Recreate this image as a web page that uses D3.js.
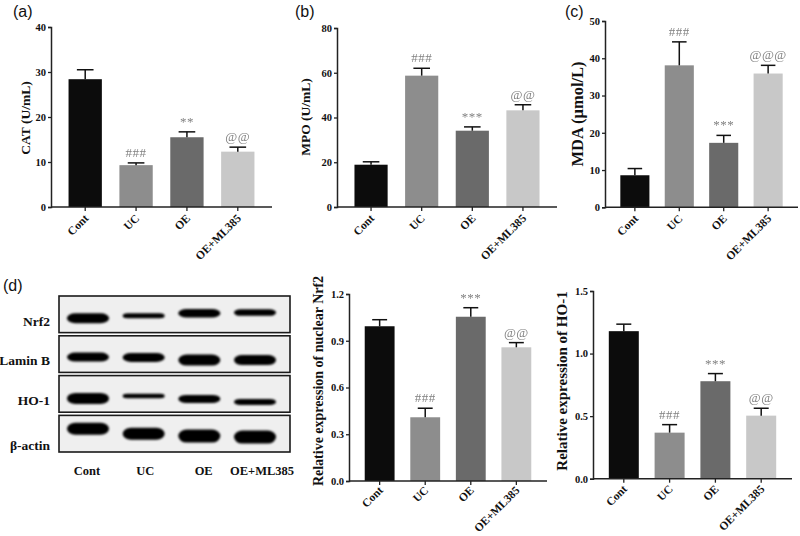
<!DOCTYPE html>
<html>
<head>
<meta charset="utf-8">
<script src="https://cdn.jsdelivr.net/npm/d3@7"></script>
<style>
  html, body { margin: 0; padding: 0; background: #ffffff; }
  svg { display: block; }
  text { -webkit-font-smoothing: antialiased; }
</style>
</head>
<body>
<svg id="chart" width="800" height="536"></svg>
<script>
// ---------------- DATA ----------------
const groups = ["Cont", "UC", "OE", "OE+ML385"];

const catMean = [28.4, 9.3, 15.5, 12.3];
const catErr  = [2.1, 0.5, 1.2, 1.0];
const catSig  = ["", "###", "**", "@@"];
const catTicks = [0, 10, 20, 30, 40];

const mpoMean = [18.9, 58.7, 34.1, 43.2];
const mpoErr  = [1.3, 3.3, 1.7, 2.5];
const mpoSig  = ["", "###", "***", "@@"];
const mpoTicks = [0, 20, 40, 60, 80];

const mdaMean = [8.6, 38.1, 17.3, 35.9];
const mdaErr  = [1.8, 6.3, 2.0, 2.2];
const mdaSig  = ["", "###", "***", "@@@"];
const mdaTicks = [0, 10, 20, 30, 40, 50];

const nrf2Mean = [0.993, 0.409, 1.054, 0.858];
const nrf2Err  = [0.042, 0.058, 0.058, 0.030];
const nrf2Sig  = ["", "###", "***", "@@"];
const nrf2Ticks = [0, 0.3, 0.6, 0.9, 1.2];

const ho1Mean = [1.179, 0.368, 0.779, 0.504];
const ho1Err  = [0.056, 0.064, 0.061, 0.059];
const ho1Sig  = ["", "###", "***", "@@"];
const ho1Ticks = [0, 0.5, 1.0, 1.5];

// Western blot (relative band density / thickness per lane)
const proteins = ["Nrf2", "Lamin B", "HO-1", "β-actin"];
const bandDensity = [
  [10, 5, 8.5, 6.5],
  [9, 9, 11, 10],
  [11, 4.5, 8, 6],
  [12, 12, 13, 13]
];
const bandShift = [
  [4, 1.5, -1, -1.7],
  [3, 3.3, 6, 6],
  [4.5, 2, 5, 8],
  [-5, 0, 2.4, 3.4]
];

// ---------------- STYLE ----------------
const barColors = ["#0c0c0c", "#8d8d8d", "#6a6a6a", "#c8c8c8"];
const serif = "'Liberation Serif', 'Times New Roman', serif";
const sans = "'Liberation Sans', Arial, sans-serif";

const svg = d3.select("#chart");

function barPanel(cfg) {
  const g = svg.append("g");
  const x = d3.scaleBand().domain(groups).range([cfg.x0, cfg.x1])
    .paddingInner(0.345).paddingOuter(0.345);
  const y = d3.scaleLinear().domain([0, cfg.max]).range([cfg.y0, cfg.yTop]);

  // bars
  g.selectAll("rect.bar").data(groups).join("rect")
    .attr("class", "bar")
    .attr("x", d => x(d))
    .attr("width", x.bandwidth())
    .attr("y", (d, i) => y(cfg.mean[i]))
    .attr("height", (d, i) => y(0) - y(cfg.mean[i]))
    .attr("fill", (d, i) => barColors[i]);

  // error bars
  const cw = x.bandwidth() / 2;
  groups.forEach((d, i) => {
    const cx = x(d) + x.bandwidth() / 2;
    const top = y(cfg.mean[i] + cfg.err[i]);
    g.append("line").attr("x1", cx).attr("x2", cx)
      .attr("y1", y(cfg.mean[i])).attr("y2", top)
      .attr("stroke", "#111").attr("stroke-width", 1.5);
    g.append("line").attr("x1", cx - cw / 2).attr("x2", cx + cw / 2)
      .attr("y1", top).attr("y2", top)
      .attr("stroke", "#111").attr("stroke-width", 1.5);
    if (cfg.sig[i]) {
      g.append("text").attr("x", cx).attr("y", top - 6)
        .attr("text-anchor", "middle")
        .attr("font-family", serif).attr("font-size", 13)
        .attr("letter-spacing", 0.5)
        .attr("fill", "#808080").attr("opacity", 0.99)
        .text(cfg.sig[i]);
    }
  });

  // y axis
  const yAxis = d3.axisLeft(y).tickValues(cfg.ticks).tickSize(3).tickPadding(2)
    .tickFormat(d3.format(cfg.fmt));
  const ya = g.append("g").attr("transform", `translate(${cfg.x0},0)`).call(yAxis);
  ya.select(".domain").attr("stroke", "#222").attr("stroke-width", 1.5);
  ya.selectAll(".tick line").attr("stroke", "#222").attr("stroke-width", 1.3);
  ya.selectAll(".tick text").attr("font-family", serif).attr("font-weight", "bold")
    .attr("font-size", 10.5).attr("fill", "#111");

  // x axis
  g.append("line").attr("x1", cfg.x0).attr("x2", cfg.x1)
    .attr("y1", cfg.y0).attr("y2", cfg.y0)
    .attr("stroke", "#222").attr("stroke-width", 1.5);
  groups.forEach((d, i) => {
    const cx = x(d) + x.bandwidth() / 2;
    g.append("line").attr("x1", cx).attr("x2", cx)
      .attr("y1", cfg.y0).attr("y2", cfg.y0 + 4)
      .attr("stroke", "#222").attr("stroke-width", 1.3);
    g.append("text")
      .attr("transform", `translate(${cx + 4},${cfg.y0 + cfg.xoff}) rotate(-45)`)
      .attr("text-anchor", "end")
      .attr("font-family", serif).attr("font-weight", "bold")
      .attr("font-size", cfg.xfs).attr("fill", "#111")
      .text(d);
  });

  // y label
  g.append("text")
    .attr("transform", `translate(${cfg.lx},${cfg.ly}) rotate(-90)`)
    .attr("text-anchor", "middle").attr("dominant-baseline", "central")
    .attr("font-family", serif).attr("font-weight", "bold")
    .attr("font-size", cfg.lfs).attr("fill", "#111")
    .text(cfg.label);
}

barPanel({ mean: catMean, err: catErr, sig: catSig, ticks: catTicks, fmt: "d", max: 40,
  x0: 51, x1: 272, y0: 207, yTop: 27, label: "CAT (U/mL)", lx: 25, ly: 118, lfs: 13.5, xfs: 11.5, xoff: 12 });
barPanel({ mean: mpoMean, err: mpoErr, sig: mpoSig, ticks: mpoTicks, fmt: "d", max: 80,
  x0: 337, x1: 557, y0: 207, yTop: 28, label: "MPO (U/mL)", lx: 305, ly: 117, lfs: 13.5, xfs: 11.5, xoff: 12 });
barPanel({ mean: mdaMean, err: mdaErr, sig: mdaSig, ticks: mdaTicks, fmt: "d", max: 50,
  x0: 605, x1: 798, y0: 207.3, yTop: 21, label: "MDA (μmol/L)", lx: 577, ly: 114, lfs: 16.5, xfs: 11.5, xoff: 12 });
barPanel({ mean: nrf2Mean, err: nrf2Err, sig: nrf2Sig, ticks: nrf2Ticks, fmt: ".1f", max: 1.2,
  x0: 349, x1: 547, y0: 481, yTop: 294, label: "Relative expression of nuclear Nrf2", lx: 318, ly: 381, lfs: 14, xfs: 11.5, xoff: 10 });
barPanel({ mean: ho1Mean, err: ho1Err, sig: ho1Sig, ticks: ho1Ticks, fmt: ".1f", max: 1.5,
  x0: 593, x1: 792, y0: 478.7, yTop: 291, label: "Relative expression of HO-1", lx: 562, ly: 381, lfs: 15, xfs: 11.5, xoff: 11 });

// panel letters
[["(a)", 13, 17], ["(b)", 295, 17], ["(c)", 565, 17], ["(d)", 3, 291]].forEach(([t, x, y]) => {
  svg.append("text").attr("x", x).attr("y", y)
    .attr("font-family", sans).attr("font-size", 16).attr("fill", "#111").text(t);
});

// ---------------- WESTERN BLOT ----------------
const defs = svg.append("defs");
defs.append("filter").attr("id", "blur").attr("x", "-20%").attr("y", "-80%")
  .attr("width", "140%").attr("height", "260%")
  .append("feGaussianBlur").attr("stdDeviation", 1.3);

const rows = d3.scaleBand().domain(proteins).range([296, 452]).paddingInner(0.08);
const lanes = d3.scalePoint().domain(groups).range([88, 255]);
const laneLabels = d3.scalePoint().domain(groups).range([87, 262]);
const boxX0 = 59, boxX1 = 290;

const blot = svg.append("g");
proteins.forEach((p, r) => {
  const top = rows(p), h = rows.bandwidth();
  blot.append("rect").attr("x", boxX0).attr("y", top)
    .attr("width", boxX1 - boxX0).attr("height", h)
    .attr("fill", "#efefef").attr("stroke", "#1a1a1a").attr("stroke-width", 1.6);
  const bandG = blot.append("g").attr("filter", "url(#blur)");
  groups.forEach((gname, i) => {
    const th = bandDensity[r][i];
    const w = 42;
    const cy = top + h / 2 + bandShift[r][i];
    bandG.append("rect")
      .attr("x", lanes(gname) - w / 2).attr("y", cy - th / 2)
      .attr("width", w).attr("height", th)
      .attr("rx", Math.min(w * 0.2, th)).attr("ry", th / 2)
      .attr("fill", "#050505");
  });
  blot.append("text")
    .attr("x", 50).attr("y", top + h - (r === 3 ? 2 : 7))
    .attr("text-anchor", "end")
    .attr("font-family", serif).attr("font-weight", "bold")
    .attr("font-size", 13.5).attr("fill", "#111").text(p);
});
groups.forEach(gname => {
  blot.append("text").attr("x", laneLabels(gname)).attr("y", 475)
    .attr("text-anchor", "middle")
    .attr("font-family", serif).attr("font-weight", "bold")
    .attr("font-size", 12.5).attr("fill", "#111").text(gname);
});
</script>
</body>
</html>
